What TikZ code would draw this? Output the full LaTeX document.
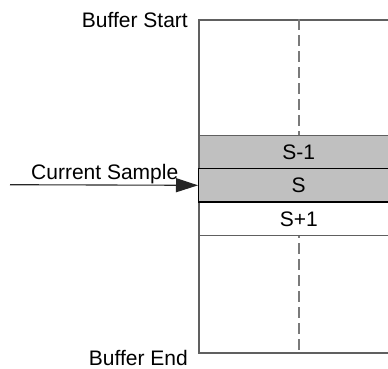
\documentclass[tikz,border=0pt]{standalone}
\usepackage{fontspec}
\setmainfont{Liberation Sans}
\usetikzlibrary{arrows.meta}
\definecolor{framegray}{HTML}{606060}
\definecolor{dashgray}{HTML}{7A7A7A}
\definecolor{cellfill}{HTML}{C0C0C0}
\begin{document}
\begin{tikzpicture}[x=1pt,y=-1pt,
  txt/.style={font=\fontsize{21}{24}\selectfont, inner sep=0pt},
  cell/.style={txt, draw=framegray, line width=1.5pt, minimum width=200pt, minimum height=33.4pt, anchor=north west},
  framebox/.style={draw=framegray, line width=1.6pt, minimum width=200pt, minimum height=333pt, anchor=north west, inner sep=0pt},
  dashline/.style={draw=dashgray, line width=1.7pt, dash pattern=on 11pt off 5pt}]
\useasboundingbox (0,0) rectangle (388,368);
\clip (0,0) rectangle (388,368);
\node[framebox] (buffer) at (198,19) {};
\draw[dashline] (buffer.north) -- (buffer.south);
\node[cell, fill=cellfill] (sm1) at (198,134.6) {S-1};
\node[cell, fill=white] (sp1) at (198,201.4) {S+1};
\node[cell, fill=cellfill, draw=black, line width=1.2pt] (s) at (198,168) {S};
\node[txt, anchor=base east] (bstart) at (188,27.3) {Buffer Start};
\node[txt, anchor=base east] (bend) at (188,365.5) {Buffer End};
\node[txt, anchor=base west] (cur) at (31,179.3) {Current Sample};
\coordinate (src) at (10,184.7);
\draw[black!85, line width=1.1pt, -{Triangle[length=22pt,width=14pt]}] (src) -- (s.west);
\end{tikzpicture}
\end{document}
